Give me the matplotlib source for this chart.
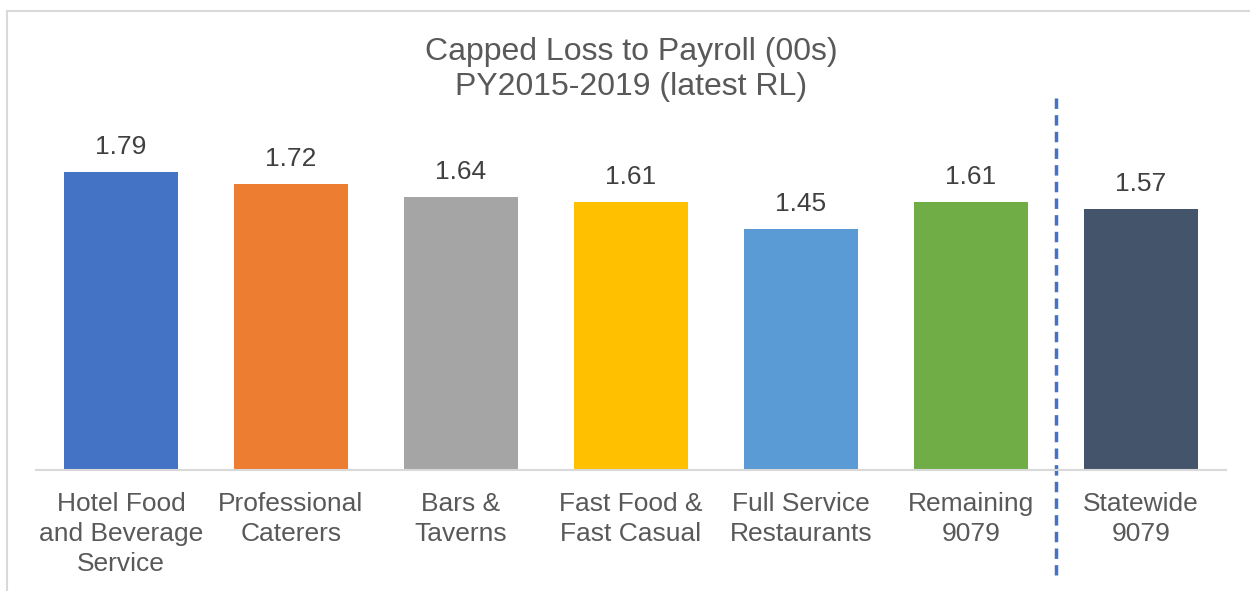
import matplotlib.pyplot as plt
from matplotlib.patches import Rectangle

plt.rcParams['font.family'] = ['Liberation Sans', 'DejaVu Sans']

# Chart data
categories = ['Hotel Food\nand Beverage\nService', 'Professional\nCaterers', 'Bars &\nTaverns',
              'Fast Food &\nFast Casual', 'Full Service\nRestaurants', 'Remaining\n9079',
              'Statewide\n9079']
values = [1.79, 1.72, 1.64, 1.61, 1.45, 1.61, 1.57]
colors = ['#4472C4', '#ED7D31', '#A5A5A5', '#FFC000', '#5B9BD5', '#70AD47', '#44546A']

W, H = 1250, 591
fig = plt.figure(figsize=(W / 100, H / 100), dpi=100)

ax = fig.add_axes([36 / W, 1 - 470 / H, (1226 - 36) / W, (470 - 137) / H])

x = list(range(len(values)))
bars = ax.bar(x, values, width=0.67, color=colors)
ax.set_xlim(-0.5, len(values) - 0.5)
ax.set_ylim(0, 2.0)

# value labels above bars
for xi, v in zip(x, values):
    ax.annotate(f'{v:.2f}', (xi, v), xytext=(0, 9), textcoords='offset points',
                ha='center', va='bottom', fontsize=19, color='#404040')

ax.set_xticks(x)
ax.set_xticklabels(categories, fontsize=19, color='#595959', linespacing=1.32)
ax.tick_params(axis='x', length=0, pad=15.5)
ax.set_yticks([])
for side in ['left', 'right', 'top']:
    ax.spines[side].set_visible(False)
ax.spines['bottom'].set_color('#D9D9D9')
ax.spines['bottom'].set_linewidth(1.5)

# dashed separator before the statewide bar
sep_x = len(values) - 1.5
ax.plot([sep_x, sep_x], [(470 - 98) / 333, (470 - 575) / 333], transform=ax.get_xaxis_transform(),
        color='#4472C4', linestyle=(0, (3, 1.8)), linewidth=2.5, clip_on=False)

fig.text(631 / W, 1 - 69.5 / H, 'Capped Loss to Payroll (00s)\nPY2015-2019 (latest RL)',
         ha='center', va='center', fontsize=23, color='#595959', linespacing=1.25)

# chart area border (cut off at right and bottom)
fig.patches.append(Rectangle((6.5 / W, -0.1), 1.2, 1 - 10.5 / H + 0.1, transform=fig.transFigure,
                             fill=False, edgecolor='#D9D9D9', linewidth=1.5))

fig.savefig('out.png', dpi=100)
